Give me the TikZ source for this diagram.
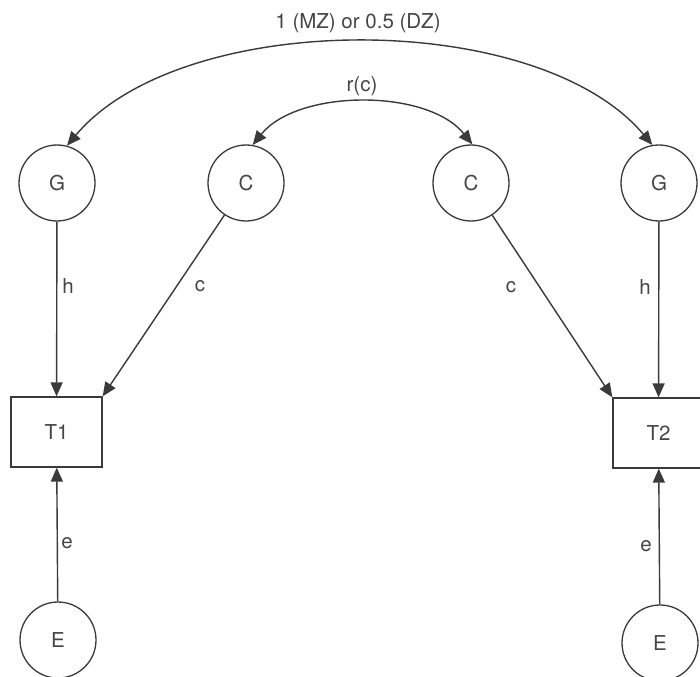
\documentclass[tikz,border=0pt]{standalone}
\usepackage{fontspec}
\setmainfont{TeX Gyre Heros}
\usetikzlibrary{arrows.meta}
\definecolor{ink}{HTML}{3A3A3A}
\definecolor{txt}{HTML}{454545}
\begin{document}
\begin{tikzpicture}[x=1pt,y=-1pt,
  place/.style={circle,draw=ink,line width=1.3pt,minimum size=76pt,inner sep=0pt,text=txt,font=\fontsize{20.5}{24}\selectfont},
  trans/.style={rectangle,draw=ink,line width=1.3pt,minimum width=91pt,minimum height=70pt,inner sep=0pt,text=txt,font=\fontsize{20.5}{24}\selectfont},
  lbl/.style={text=txt,inner sep=0pt,font=\fontsize{20.5}{24}\selectfont},
  arc/.style={draw=ink,line width=1.4pt,-{Triangle[length=14pt,width=12pt]}},
  barc/.style={draw=ink,line width=1.4pt,{Triangle[length=14pt,width=12pt]}-{Triangle[length=14pt,width=12pt]}}]
\useasboundingbox (0,0) rectangle (700,676);
\fill[white] (0,0) rectangle (700,676);
\clip (0,0) rectangle (700,676);
\node[place] (Gl) at (57,183) {G};
\node[place] (Cl) at (246,183) {C};
\node[place] (Cr) at (471,183) {C};
\node[place] (Gr) at (659,183) {G};
\node[trans] (T1) at (56.5,432) {T1};
\node[trans] (T2) at (658.5,433) {T2};
\node[place] (El) at (58,640) {E};
\node[place] (Er) at (660,643) {E};
\draw[barc] (Gl.75) .. controls +(115,-137) and +(-115,-137) .. (Gr.100);
\draw[barc] (Cl.80) .. controls +(45,-56) and +(-45,-56) .. (Cr.88);
\node[lbl] (lt) at (358,23) {1 (MZ) or 0.5 (DZ)};
\node[lbl] (lr) at (362,86) {r(c)};
\draw[arc] (Gl) -- (T1);
\draw[arc] (Cl) -- (T1.north east);
\draw[arc] (Cr) -- (T2.north west);
\draw[arc] (Gr) -- (T2);
\draw[arc] (El) -- (T1);
\draw[arc] (Er) -- (T2);
\node[lbl] (h1) at (68,286) {h};
\node[lbl] (c1) at (200,286) {c};
\node[lbl] (c2) at (511,287) {c};
\node[lbl] (h2) at (645,287) {h};
\node[lbl] (e1) at (67,543) {e};
\node[lbl] (e2) at (646,546) {e};
\end{tikzpicture}
\end{document}
